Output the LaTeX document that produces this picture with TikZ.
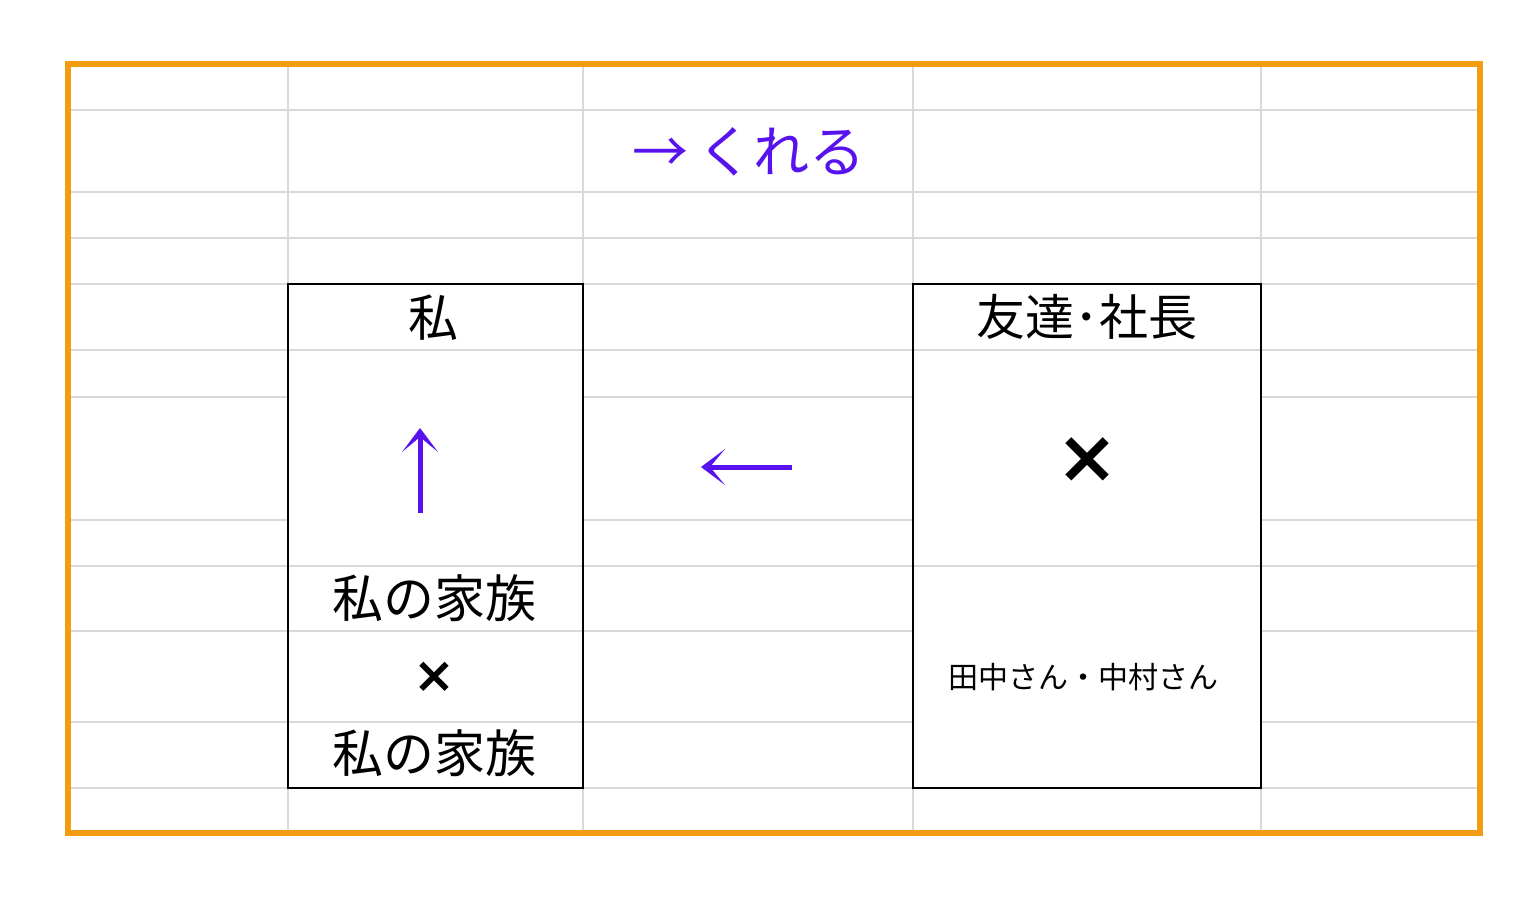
\documentclass[tikz,border=0pt]{standalone}
\usepackage{fontspec}
\newfontfamily\jp{Noto Sans CJK JP}
\newfontfamily\dvb{DejaVu Sans Bold}
\usetikzlibrary{arrows.meta}
\definecolor{frameorange}{RGB}{243,156,18}
\definecolor{gridgray}{RGB}{217,217,217}
\definecolor{vio}{RGB}{88,18,238}
\tikzset{
  gridline/.style={draw=gridgray, line width=2pt},
  frame/.style={draw=frameorange, line width=6pt},
  cellbox/.style={draw=black, line width=2pt},
  parrow/.style={draw=vio, line width=5pt, -{Stealth[length=24pt, width=36pt, inset=15pt]}},
  lbl/.style={inner sep=0pt, anchor=center, font=\jp},
}
\begin{document}
\begin{tikzpicture}[x=1pt,y=-1pt]
\useasboundingbox (0,0) rectangle (1536,900);
\fill[white] (0,0) rectangle (1536,900);
% grid lines
\foreach \y in {110,192,238,284,350,566,788}
  \draw[gridline] (68,\y) -- (1480,\y);
\foreach \y in {397,520}{
  \draw[gridline] (68,\y) -- (288,\y);
  \draw[gridline] (583,\y) -- (913,\y);
  \draw[gridline] (1261,\y) -- (1480,\y);
}
\foreach \y in {631,722}{
  \draw[gridline] (68,\y) -- (913,\y);
  \draw[gridline] (1261,\y) -- (1480,\y);
}
\foreach \x in {288,583,913,1261}
  \draw[gridline] (\x,64) -- (\x,833);
% boxes
\draw[cellbox] (288,284) rectangle (583,788);
\draw[cellbox] (913,284) rectangle (1261,788);
% frame
\draw[frame] (68,64) rectangle (1480,833);
% texts
\node[lbl, text=vio, font=\jp\fontsize{56}{60}\selectfont] (kureru) at (749,152) {→\hspace{10pt}くれる};
\node[lbl, font=\jp\fontsize{50}{56}\selectfont] (watashi) at (433,318) {私};
\node[lbl, font=\jp\fontsize{49}{54}\selectfont] (tomo) at (1087,317) {友達･社長};
\node[lbl, font=\dvb\fontsize{74}{78}\selectfont] (batsuR) at (1087,460) {×};
\node[lbl, font=\jp\fontsize{51}{56}\selectfont] (fam1) at (434,598) {私の家族};
\node[lbl, font=\dvb\fontsize{50}{54}\selectfont] (batsuL) at (434,677) {×};
\node[lbl, font=\jp\fontsize{51}{56}\selectfont] (fam2) at (434,753) {私の家族};
\node[lbl, font=\jp\fontsize{30}{34}\selectfont] (tanaka) at (1083,677) {田中さん・中村さん};
% arrows
\coordinate (upT) at (420,513);
\coordinate (upH) at (420,428);
\coordinate (lT) at (792,467);
\coordinate (lH) at (701,467);
\draw[parrow] (upT) -- (upH);
\draw[parrow] (lT) -- (lH);
\end{tikzpicture}
\end{document}
